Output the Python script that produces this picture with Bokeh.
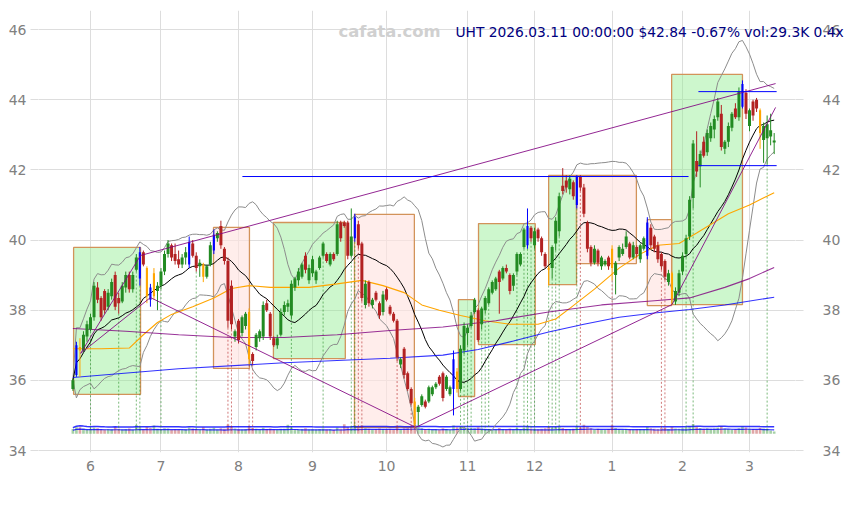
import numpy as np
import pandas as pd
from bokeh.plotting import figure
from bokeh.models import ColumnDataSource, FixedTicker, LinearAxis, Range1d, Label
from bokeh.embed import file_html
from bokeh.resources import INLINE

# ---------------- data ----------------
opens = [
    35.75, 36.15, 36.95, 36.85, 37.25, 37.45, 37.80, 38.65, 38.35, 38.55,
    38.10, 38.40, 39.00, 38.35, 38.25, 38.65, 39.00, 38.60, 39.15, 38.90,
    39.65, 39.20, 38.65, 38.40, 38.55, 38.70, 39.10, 39.60, 39.85, 39.60,
    39.45, 39.30, 39.50, 39.30, 39.90, 39.55, 39.25, 39.30, 38.95, 39.30,
    39.70, 40.05, 40.40, 39.75, 39.40, 38.70, 37.25, 37.70, 37.35, 37.55,
    37.95, 36.75, 36.95, 37.20, 37.25, 38.20, 37.90, 37.20, 37.00, 37.30,
    37.95, 38.10, 37.85, 38.65, 38.85, 38.95, 39.55, 38.85, 39.05, 38.85,
    39.20, 39.55, 39.60, 39.30, 39.60, 39.60, 40.50, 40.50, 40.50, 39.55,
    40.05, 40.45, 39.90, 38.15, 38.80, 38.15, 38.50, 38.20, 37.95, 38.60,
    38.10, 37.90, 37.70, 36.45, 36.90, 36.20, 35.75, 35.40, 35.10, 35.30,
    35.40, 35.40, 35.60, 35.80, 36.10, 36.20, 35.75, 35.60, 35.75, 36.25,
    35.75, 36.85, 37.35, 37.55, 37.95, 38.00, 37.60, 38.00, 38.20, 38.50,
    38.60, 39.10, 38.90, 39.20, 39.00, 38.70, 39.10, 39.30, 39.80, 39.85,
    40.35, 39.85, 40.30, 40.05, 39.60, 39.20, 39.20, 39.90, 40.25, 41.55,
    41.70, 41.45, 41.65, 41.00, 41.80, 41.50, 40.50, 39.80, 39.35, 39.70,
    39.25, 39.30, 39.50, 39.75, 39.00, 39.50, 39.60, 39.80, 39.90, 39.50,
    39.80, 39.45, 39.75, 39.55, 40.35, 40.10, 39.85, 39.60, 39.40, 38.80,
    39.05, 38.25, 38.50, 39.10, 39.60, 40.10, 41.20, 42.25, 42.10, 42.80,
    42.50, 42.90, 43.15, 43.50, 43.60, 42.60, 42.80, 43.20, 43.75, 43.50,
    43.80, 44.20, 43.25, 43.95, 44.00, 43.70, 42.85, 42.90, 42.95, 42.78,
]
highs = [
    36.05, 37.10, 37.20, 37.40, 37.70, 37.90, 38.80, 38.80, 38.40, 38.60,
    38.60, 38.90, 39.10, 38.50, 38.80, 39.10, 39.10, 39.10, 39.60, 39.80,
    39.70, 39.25, 38.75, 39.20, 38.80, 39.20, 39.70, 40.00, 39.90, 39.90,
    39.70, 39.60, 39.80, 40.10, 40.00, 39.65, 39.45, 39.35, 39.30, 39.95,
    40.30, 40.25, 40.55, 39.80, 39.50, 38.85, 37.45, 37.75, 37.85, 37.95,
    38.05, 36.80, 37.35, 37.45, 38.25, 38.30, 37.95, 37.25, 37.30, 38.05,
    38.25, 38.30, 38.85, 38.95, 39.20, 39.35, 39.65, 39.30, 39.55, 39.15,
    39.55, 39.95, 39.65, 39.65, 39.65, 40.55, 40.55, 40.55, 40.55, 40.90,
    40.75, 40.55, 39.95, 38.85, 38.85, 38.35, 38.55, 38.25, 38.55, 38.65,
    38.15, 37.95, 37.75, 36.65, 36.95, 36.25, 35.80, 35.50, 35.30, 35.60,
    35.45, 35.85, 35.85, 35.95, 36.15, 36.25, 36.15, 35.85, 36.85, 36.35,
    37.00, 37.65, 37.60, 37.95, 38.35, 38.05, 38.10, 38.40, 38.65, 38.85,
    38.95, 39.15, 39.25, 39.30, 39.05, 39.05, 39.65, 39.65, 40.35, 40.90,
    40.40, 40.35, 40.35, 40.10, 39.65, 39.25, 39.85, 40.65, 41.35, 42.05,
    41.85, 41.85, 41.70, 41.85, 41.85, 41.60, 40.55, 39.85, 39.85, 39.75,
    39.55, 39.45, 39.55, 39.85, 39.40, 39.85, 39.90, 40.25, 39.95, 39.95,
    39.85, 39.90, 40.10, 40.65, 40.45, 40.15, 39.95, 39.65, 39.45, 39.15,
    39.10, 38.65, 39.15, 39.65, 40.15, 41.25, 42.85, 43.10, 42.55, 42.95,
    43.15, 43.35, 43.55, 44.05, 43.85, 42.85, 43.35, 43.65, 43.90, 44.35,
    44.55, 44.30, 43.75, 44.00, 44.05, 43.75, 43.35, 43.55, 43.60, 43.05,
]
lows = [
    35.70, 36.10, 36.10, 36.80, 37.10, 37.40, 37.70, 38.20, 37.70, 37.90,
    38.00, 38.30, 38.00, 37.90, 38.20, 38.50, 38.50, 38.50, 39.10, 38.70,
    39.25, 38.20, 38.10, 38.30, 38.00, 38.60, 39.00, 39.50, 39.40, 39.30,
    39.20, 39.20, 39.30, 39.20, 39.50, 39.10, 38.95, 38.80, 38.90, 39.25,
    39.60, 39.95, 39.75, 39.30, 37.50, 37.45, 37.10, 37.05, 37.25, 37.45,
    36.45, 36.45, 36.85, 37.10, 37.15, 37.95, 37.15, 36.95, 36.90, 37.25,
    37.85, 37.95, 37.75, 38.55, 38.70, 38.90, 39.05, 38.75, 38.95, 38.75,
    39.15, 39.50, 39.35, 39.25, 39.40, 39.55, 39.95, 40.35, 39.45, 39.50,
    39.95, 39.75, 38.25, 38.05, 38.10, 38.05, 38.25, 37.75, 37.85, 38.25,
    37.85, 37.65, 36.55, 36.35, 36.05, 35.70, 35.30, 34.65, 34.70, 35.25,
    35.20, 35.35, 35.55, 35.75, 35.85, 35.40, 35.70, 35.55, 35.00, 35.65,
    35.70, 36.75, 37.00, 37.50, 37.90, 37.10, 37.45, 37.90, 38.15, 38.45,
    38.55, 37.90, 38.85, 39.05, 38.45, 38.55, 39.00, 39.25, 39.75, 39.75,
    39.95, 39.75, 39.95, 39.55, 39.20, 38.70, 38.90, 39.70, 40.10, 41.30,
    41.35, 41.30, 41.15, 40.90, 41.40, 40.65, 39.65, 39.25, 39.30, 39.25,
    39.15, 39.25, 39.15, 38.85, 38.45, 39.40, 39.55, 39.75, 39.45, 39.45,
    39.50, 39.35, 39.70, 39.45, 39.75, 39.65, 39.35, 39.15, 38.85, 38.70,
    38.15, 38.15, 38.40, 39.00, 39.50, 40.00, 40.90, 41.80, 41.50, 42.35,
    42.40, 42.80, 42.90, 43.40, 42.55, 42.45, 42.65, 43.10, 43.45, 43.40,
    43.75, 43.45, 43.10, 43.40, 43.65, 42.60, 42.20, 42.15, 42.70, 42.45,
]
closes = [
    36.00, 37.00, 36.85, 37.30, 37.60, 37.80, 38.70, 38.30, 37.80, 38.00,
    38.50, 38.80, 38.10, 38.20, 38.70, 39.00, 38.60, 39.00, 39.50, 39.65,
    39.30, 38.40, 38.30, 39.05, 38.70, 39.10, 39.60, 39.90, 39.50, 39.40,
    39.30, 39.50, 39.65, 39.95, 39.55, 39.20, 39.35, 38.95, 39.25, 39.85,
    40.15, 40.20, 39.85, 39.40, 37.70, 37.60, 37.40, 37.15, 37.80, 37.90,
    36.60, 36.55, 37.30, 37.40, 38.15, 38.00, 37.25, 37.00, 37.20, 37.95,
    38.15, 38.20, 38.75, 38.90, 39.10, 39.30, 39.15, 39.20, 39.45, 39.10,
    39.50, 39.90, 39.40, 39.60, 39.45, 40.45, 40.05, 40.40, 39.55, 40.10,
    40.65, 39.85, 38.35, 38.75, 38.20, 38.30, 38.30, 37.85, 38.45, 38.30,
    37.90, 37.70, 36.65, 36.60, 36.15, 35.75, 35.35, 34.75, 35.25, 35.55,
    35.25, 35.80, 35.80, 35.90, 35.90, 35.50, 36.10, 35.80, 36.60, 35.75,
    36.90, 37.55, 37.50, 37.85, 38.30, 37.15, 38.05, 38.35, 38.60, 38.80,
    38.90, 38.80, 39.20, 39.10, 38.55, 39.00, 39.60, 39.60, 40.30, 40.40,
    40.05, 40.25, 40.05, 39.65, 39.25, 39.15, 39.80, 40.55, 41.25, 41.40,
    41.50, 41.75, 41.25, 41.80, 41.50, 40.75, 39.75, 39.35, 39.75, 39.35,
    39.50, 39.40, 39.25, 39.20, 39.35, 39.80, 39.75, 40.10, 39.50, 39.85,
    39.60, 39.85, 40.05, 40.50, 39.85, 39.75, 39.45, 39.25, 38.95, 39.05,
    38.30, 38.55, 39.05, 39.55, 40.05, 41.15, 42.75, 41.95, 42.45, 42.40,
    43.05, 43.25, 43.45, 43.95, 42.65, 42.80, 43.25, 43.60, 43.50, 44.25,
    44.45, 43.60, 43.70, 43.55, 43.75, 43.05, 43.25, 43.30, 43.13, 42.84,
]
# candle kind: G up, R down, B blue-flag, O orange-flag
kinds = (
    "G B O G G G G R R R "
    "G G R R G G R G G B "
    "R O B O G G G G R R "
    "R G G B R R G O G G "
    "B G R R R R G R G G "
    "O R G G G R R R G G "
    "G G G G G G R G G G "
    "G G R G R G R R R G "
    "B R R G R G R R G R "
    "R R R G R R R O G G "
    "R G G G R R G G B O "
    "G G G G G R G G G G "
    "G R G R R G G G G B "
    "R G R R R O G G G R "
    "R G R B R R R R G R "
    "G G R O G G G G R G "
    "R G G B R R R R R G "
    "O G G G G G G R G R "
    "G G G G R G G G R G "
    "B R G R R O G G G G"
).split()
volumes = [
    62, 95, 88, 70, 58, 66, 84, 72, 61, 55,
    64, 59, 90, 68, 57, 63, 71, 52, 118, 86,
    60, 92, 78, 110, 66, 58, 73, 69, 54, 61,
    57, 50, 63, 82, 70, 59, 62, 88, 55, 67,
    79, 58, 74, 66, 125, 98, 71, 60, 56, 63,
    104, 77, 65, 58, 80, 62, 70, 59, 52, 68,
    66, 122, 84, 61, 57, 64, 72, 55, 60, 58,
    63, 70, 56, 61, 54, 85, 66, 128, 92, 101,
    115, 80, 112, 74, 66, 58, 62, 71, 64, 60,
    68, 59, 96, 63, 72, 78, 86, 118, 90, 74,
    62, 66, 58, 61, 57, 75, 63, 55, 112, 88,
    95, 84, 77, 69, 73, 88, 70, 66, 62, 60,
    58, 76, 64, 55, 69, 61, 72, 59, 83, 104,
    70, 66, 61, 68, 74, 92, 80, 86, 97, 78,
    64, 59, 66, 99, 84, 121, 95, 72, 60, 65,
    57, 54, 62, 110, 76, 63, 58, 67, 61, 55,
    59, 64, 60, 90, 73, 66, 62, 78, 85, 64,
    92, 70, 66, 74, 88, 102, 130, 94, 76, 68,
    72, 65, 70, 84, 99, 71, 63, 60, 58, 75,
    96, 82, 66, 62, 58, 80, 70, 68, 44, 29.3,
]

# month ticks (trading-day index of first session of each month)
month_idx = [5, 25, 47, 68, 89, 112, 131, 153, 173, 192]
month_lbl = ["6", "7", "8", "9", "10", "11", "12", "1", "2", "3"]
y_ticks = [34, 36, 38, 40, 42, 44, 46]

# long moving-average style lines
orange_idx = [0, 8, 16, 20, 24, 28, 34, 40, 45, 50, 56, 67, 75, 82, 88, 94, 99, 104, 110,
              117, 124, 132, 137, 141, 148, 155, 161, 166, 172, 177, 186, 192, 199]
orange_val = [36.90, 36.90, 36.92, 37.30, 37.65, 37.88, 38.10, 38.35, 38.62, 38.70, 38.65, 38.65,
              38.75, 38.85, 38.70, 38.50, 38.15, 38.00, 37.85, 37.70, 37.60, 37.60, 37.75, 38.05,
              38.60, 39.20, 39.60, 39.85, 39.90, 40.20, 40.75, 41.00, 41.35]
slow_purple_idx = [0, 15, 30, 45, 60, 75, 90, 105, 120, 135, 150, 165, 175, 185, 192, 199]
slow_purple_val = [37.48, 37.40, 37.30, 37.22, 37.22, 37.30, 37.42, 37.52, 37.70, 37.95,
                   38.15, 38.27, 38.35, 38.65, 38.90, 39.22]
slow_blue_idx = [0, 30, 60, 90, 105, 115, 125, 135, 145, 155, 165, 175, 185, 199]
slow_blue_val = [36.08, 36.33, 36.50, 36.63, 36.72, 36.88, 37.12, 37.38, 37.60, 37.80,
                 37.92, 38.02, 38.15, 38.37]

# trend lines (pivot index, price)
upper_trend_idx = [2.2, 19.2, 199.4]
upper_trend_val = [36.77, 39.56, 44.46]
zigzag_idx = [2.2, 22.0, 97.3, 170.0, 199.4]
zigzag_val = [36.77, 38.36, 34.66, 38.16, 43.78]

# trend boxes
green_box_left = [0.2, 56.9, 109.4, 115.1, 135.0, 169.9]
green_box_right = [19.2, 77.3, 114.0, 131.2, 142.9, 190.0]
green_box_top = [39.79, 40.50, 38.30, 40.47, 41.84, 44.72]
green_box_bottom = [35.60, 36.62, 35.54, 37.02, 38.73, 38.16]
red_box_left = [39.9, 79.9, 142.9, 163.0]
red_box_right = [50.1, 96.9, 159.9, 169.9]
red_box_top = [40.36, 40.73, 41.84, 40.58]
red_box_bottom = [36.34, 34.66, 39.33, 38.13]

# support / resistance lines
level_price = [41.81, 44.23, 42.12]
level_start = [48.1, 177.5, 177.5]
level_end = [174.7, 199.7, 199.7]

# signal days
green_signals = [5, 13, 18, 19, 25, 35, 62, 71, 79, 80, 110, 111, 112, 113, 116, 117, 118,
                 126, 128, 129, 130, 131, 135, 136, 137, 138, 143, 174, 176, 197]
red_signals = [44, 45, 50, 51, 81, 82, 92, 96, 97, 144, 153, 167, 168]

title_text = "UHT 2026.03.11 00:00:00 $42.84 -0.67% vol:29.3K 0.4x"
watermark = "cafata.com"

# ---------------- styling constants ----------------
FONT = "DejaVu Sans"
UP, DOWN, BLUE, ORANGE = "#228b22", "#b22222", "#0000ff", "#ffa500"
VOL_BASE = 34.48
VOL_SCALE = 0.0021
SIG_BOTTOM = 34.57

n = len(closes)
idx = np.arange(n)
o = np.array(opens); h = np.array(highs); l = np.array(lows); c = np.array(closes)
cmap = {"G": UP, "R": DOWN, "B": BLUE, "O": ORANGE}
cols = [cmap[k] for k in kinds]
widths = [0.6 if k in ("B", "O") else 0.85 for k in kinds]
top = np.maximum(o, c); bot = np.minimum(o, c)
top = np.where(top - bot < 0.03, bot + 0.03, top)
src = ColumnDataSource(dict(x=idx, o=o, h=h, l=l, c=c, top=top, bot=bot, col=cols, w=widths))

vol = np.array(volumes, dtype=float)
vcol = [UP if c[i] >= o[i] else DOWN for i in range(n)]
vsrc = ColumnDataSource(dict(x=idx, top=VOL_BASE + vol * VOL_SCALE, col=vcol))
vma_long = VOL_BASE + pd.Series(vol).rolling(50, min_periods=1).mean().values * VOL_SCALE * 1.3
vma_short = VOL_BASE + pd.Series(vol).rolling(20, min_periods=1).mean().values * VOL_SCALE * 0.75

cs = pd.Series(c)
ma20 = cs.rolling(20, min_periods=1).mean()
sd20 = cs.rolling(20, min_periods=1).std(ddof=0).fillna(0)
bb_up = ma20 + 2 * sd20
bb_dn = ma20 - 2 * sd20

p = figure(width=844, height=496,
           x_range=Range1d(-9.76, 205.05), y_range=Range1d(33.943, 46.543),
           output_backend="svg", toolbar_location=None,
           min_border_left=38, min_border_right=49, min_border_top=10, min_border_bottom=44)
p.outline_line_color = None
p.background_fill_color = "white"
p.border_fill_color = "white"

# grid
p.xgrid.ticker = FixedTicker(ticks=month_idx)
p.ygrid.ticker = FixedTicker(ticks=y_ticks)
p.xgrid.grid_line_color = "#dddddd"
p.ygrid.grid_line_color = "#dddddd"

# axes
rax = LinearAxis()
p.add_layout(rax, "right")
for ax, so in ((p.yaxis[0], 4), (rax, 19)):
    ax.ticker = FixedTicker(ticks=y_ticks)
    ax.axis_line_color = None
    ax.major_tick_line_color = "#dddddd"
    ax.major_tick_out = 8
    ax.major_tick_in = 0
    ax.minor_tick_line_color = None
    ax.major_label_standoff = so
    ax.major_label_text_color = "#808080"
    ax.major_label_text_font_size = "14px"
    ax.major_label_text_font = FONT
xa = p.xaxis[0]
xa.ticker = FixedTicker(ticks=month_idx)
xa.major_label_overrides = {m: s for m, s in zip(month_idx, month_lbl)}
xa.axis_line_color = None
xa.major_tick_line_color = None
xa.minor_tick_line_color = None
xa.major_label_standoff = 2
xa.major_label_text_color = "#808080"
xa.major_label_text_font_size = "14px"
xa.major_label_text_font = FONT

# boxes
gb = ColumnDataSource(dict(l=green_box_left, r=green_box_right, t=green_box_top, b=green_box_bottom))
rb = ColumnDataSource(dict(l=red_box_left, r=red_box_right, t=red_box_top, b=red_box_bottom))
p.quad(left="l", right="r", top="t", bottom="b", source=gb, fill_color="#90ee90", fill_alpha=0.45,
       line_color="#d2935a", line_width=1.3)
p.quad(left="l", right="r", top="t", bottom="b", source=rb, fill_color="#ffe4e1", fill_alpha=0.65,
       line_color="#d2935a", line_width=1.3)

# volume
p.vbar(x="x", top="top", bottom=VOL_BASE, width=0.75, source=vsrc, fill_color="col",
       line_color=None, fill_alpha=0.4)
p.line(idx, vma_long, line_color="#0000ff", line_width=1.5, line_alpha=0.8)
p.line(idx, vma_short, line_color="#0000ff", line_width=1.2, line_alpha=0.8)

# signals
gs = ColumnDataSource(dict(x=green_signals, y=[lows[i] for i in green_signals]))
rs = ColumnDataSource(dict(x=red_signals, y=[lows[i] for i in red_signals]))
p.segment(x0="x", y0="y", x1="x", y1=SIG_BOTTOM, source=gs, line_color=UP, line_alpha=0.6,
          line_width=1, line_dash="2 2")
p.segment(x0="x", y0="y", x1="x", y1=SIG_BOTTOM, source=rs, line_color=DOWN, line_alpha=0.6,
          line_width=1, line_dash="2 2")

# indicator lines
p.line(idx, bb_up, line_color="#8c8c8c", line_width=1)
p.line(idx, bb_dn, line_color="#8c8c8c", line_width=1)
p.line(idx, ma20, line_color="#000000", line_width=1)
p.line(orange_idx, orange_val, line_color="#ffa500", line_width=1.1)
p.line(slow_purple_idx, slow_purple_val, line_color="#800080", line_width=1.1, line_alpha=0.8)
p.line(slow_blue_idx, slow_blue_val, line_color="#0000ff", line_width=1.1, line_alpha=0.8)

# candles
p.segment(x0="x", y0="h", x1="x", y1="l", source=src, line_color="col", line_width=1)
p.vbar(x="x", top="top", bottom="bot", width="w", source=src, fill_color="col", line_color=None)

# trend lines
p.line(upper_trend_idx, upper_trend_val, line_color="#800080", line_width=1, line_alpha=0.85)
p.line(zigzag_idx, zigzag_val, line_color="#800080", line_width=1, line_alpha=0.85)

# levels
p.segment(x0=level_start, y0=level_price, x1=level_end, y1=level_price, line_color="#0000ff",
          line_width=1)

# texts
p.add_layout(Label(x=300, y=421, x_units="screen", y_units="screen", text=watermark,
                   text_color="#d0d0d0", text_font=FONT, text_font_size="16.4px",
                   text_font_style="bold", text_baseline="alphabetic"))
# header line lives in a side panel so that it is not clipped at the frame's right edge
p.add_layout(Label(x=108.57, y=45.94, x_units="data", y_units="data", text=title_text,
                   text_color="#000080", text_font=FONT, text_font_size="13.8px",
                   text_baseline="alphabetic"), "below")

open("out.html", "w").write(file_html(p, INLINE))
